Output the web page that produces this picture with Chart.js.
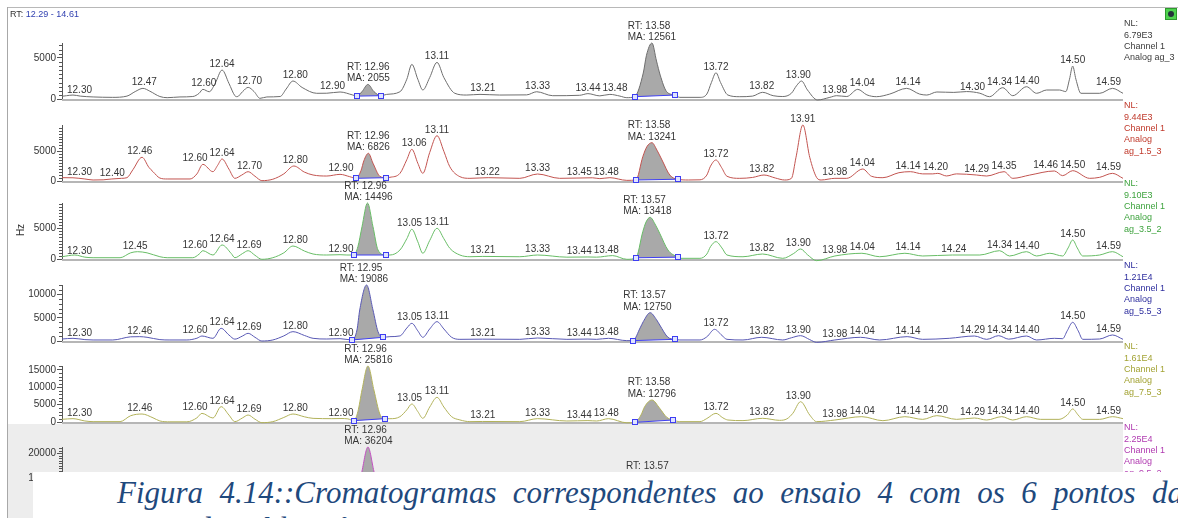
<!DOCTYPE html>
<html lang="pt">
<head>
<meta charset="utf-8">
<title>Cromatogramas – ensaio 4</title>
<script src="https://cdn.jsdelivr.net/npm/chart.js@4.4.1/dist/chart.umd.min.js"></script>
<style>
  html, body { margin: 0; padding: 0; background: #fff; }
  body { position: relative; width: 1178px; height: 518px; overflow: hidden;
         font-family: "Liberation Sans", Arial, sans-serif; }
  #selBg { position: absolute; left: 8px; top: 424px; width: 1115px; height: 94px; background: #ededed; }
  #chrom canvas { position: absolute; left: 0; }
  #frameTop { position: absolute; left: 7px; top: 7px; width: 1171px; height: 1px; background: #b8b8b8; }
  #frameLeft { position: absolute; left: 7px; top: 7px; width: 1px; height: 511px; background: #a8a8a8; }
  #range { position: absolute; left: 10px; top: 9px; font-size: 9px; line-height: 10px; color: #333; white-space: nowrap; }
  #range span { color: #2f3fb0; }
  #icon { position: absolute; left: 1165px; top: 8px; width: 10px; height: 10px; background: #4fd34f;
          border: 1px solid #2e9a2e; }
  #icon::after { content: ""; position: absolute; left: 2px; top: 2px; width: 6px; height: 6px;
                 border-radius: 50%; background: #24343a; }
  #caption { position: absolute; left: 33px; top: 472px; width: 1145px; height: 46px; background: #fff; overflow: hidden; }
  #caption p { position: absolute; margin: 0; left: 84px; white-space: nowrap;
               font-family: "Liberation Serif", "Times New Roman", serif; font-style: italic;
               font-size: 31px; line-height: 31px; color: #1f497d; }
  #cap1 { top: 5px; }
  #cap2 { top: 41px; }
</style>
</head>
<body>
<div id="selBg"></div>
<div id="chrom"></div>
<div id="frameTop"></div>
<div id="frameLeft"></div>
<div id="range">RT: <span>12.29 - 14.61</span></div>
<div id="icon"></div>
<div id="caption">
  <p id="cap1"><span>Figura 4.14::Cromatogramas correspondentes ao ensaio 4 com os 6 pontos da</span></p>
  <p id="cap2"><span>curva de calibração, entre 12,29 e 14,61 min.</span></p>
</div>

<script>
// Retention-time window shown on every trace (min)
const rtWindow = [12.29, 14.61];

// Full-scale (NL) intensity of each channel
const nlValues = [6790, 9440, 9100, 12100, 16100, 22500];
const nlTexts = ['6.79E3', '9.44E3', '9.10E3', '1.21E4', '1.61E4', '2.25E4'];
const sampleNames = ['ag_3', 'ag_1.5_3', 'ag_3.5_2', 'ag_5.5_3', 'ag_7.5_3', 'ag_9.5_2'];

// Detector signal, [retention time, intensity]
const trace_ag_3 = [[12.290,330],[12.300,400],[12.314,480],[12.330,350],[12.358,250],[12.400,200],[12.432,350],[12.450,900],[12.467,1290],[12.482,950],[12.504,300],[12.520,160],[12.548,250],[12.576,300],[12.590,700],[12.598,1170],[12.612,880],[12.625,1900],[12.640,3510],[12.655,1900],[12.668,400],[12.673,280],[12.685,900],[12.697,1410],[12.710,900],[12.723,80],[12.738,250],[12.767,300],[12.780,1200],[12.795,2180],[12.815,1400],[12.847,690],[12.869,700],[12.898,850],[12.926,480],[12.935,350],[12.946,900],[12.959,1770],[12.972,900],[12.987,400],[13.000,560],[13.029,880],[13.044,2400],[13.055,4200],[13.068,2400],[13.079,1090],[13.094,2600],[13.110,4440],[13.125,2600],[13.149,690],[13.175,480],[13.204,560],[13.247,480],[13.306,500],[13.328,880],[13.363,400],[13.422,450],[13.440,650],[13.466,380],[13.488,560],[13.510,350],[13.525,160],[13.542,280],[13.561,3150],[13.568,5300],[13.580,6790],[13.590,4600],[13.598,2900],[13.612,900],[13.630,480],[13.641,200],[13.685,200],[13.700,600],[13.710,2000],[13.720,3180],[13.730,2000],[13.746,480],[13.772,280],[13.800,350],[13.822,810],[13.845,400],[13.866,300],[13.885,700],[13.896,1600],[13.907,2180],[13.920,1100],[13.942,-120],[13.969,200],[13.984,400],[14.006,300],[14.030,1170],[14.050,500],[14.071,280],[14.100,600],[14.137,1290],[14.165,600],[14.181,480],[14.203,850],[14.240,800],[14.268,900],[14.297,700],[14.318,280],[14.347,1370],[14.369,400],[14.399,1490],[14.421,690],[14.443,1090],[14.471,1090],[14.485,900],[14.493,2400],[14.500,3990],[14.507,2400],[14.518,690],[14.559,690],[14.587,1290],[14.610,690]];
const trace_ag_1_5_3 = [[12.290,560],[12.314,540],[12.340,340],[12.358,170],[12.380,200],[12.399,340],[12.420,450],[12.432,560],[12.445,1900],[12.465,4000],[12.480,2300],[12.489,1570],[12.504,500],[12.520,340],[12.570,340],[12.585,1200],[12.598,2810],[12.620,1570],[12.630,2600],[12.640,3710],[12.655,2000],[12.668,450],[12.683,1000],[12.697,1570],[12.712,800],[12.727,60],[12.751,300],[12.775,1200],[12.797,2530],[12.820,1500],[12.839,1010],[12.869,840],[12.898,1120],[12.919,730],[12.933,450],[12.944,1800],[12.950,3400],[12.960,4670],[12.970,3000],[12.985,800],[12.998,560],[13.007,620],[13.029,1290],[13.044,3600],[13.055,5340],[13.068,3000],[13.079,1290],[13.094,4800],[13.110,7640],[13.125,5000],[13.138,2400],[13.160,730],[13.182,450],[13.222,560],[13.291,450],[13.330,1180],[13.378,450],[13.450,540],[13.466,400],[13.488,560],[13.525,110],[13.545,170],[13.560,4100],[13.569,5800],[13.580,6460],[13.591,5200],[13.602,3540],[13.619,1010],[13.636,300],[13.660,170],[13.685,200],[13.700,1000],[13.708,2500],[13.720,3540],[13.732,2300],[13.744,800],[13.772,450],[13.800,600],[13.825,1010],[13.850,500],[13.870,170],[13.885,450],[13.895,4000],[13.910,9440],[13.925,4000],[13.940,600],[13.950,170],[13.980,450],[14.006,450],[14.041,2020],[14.060,800],[14.085,560],[14.120,1400],[14.145,1570],[14.172,1200],[14.194,1200],[14.205,1290],[14.224,850],[14.246,1200],[14.290,1010],[14.312,840],[14.350,1570],[14.369,450],[14.406,1000],[14.460,1690],[14.478,900],[14.500,1740],[14.537,450],[14.559,620],[14.587,1290],[14.610,450]];
const trace_ag_3_5_2 = [[12.290,370],[12.318,650],[12.340,300],[12.358,210],[12.417,210],[12.440,1000],[12.455,1190],[12.476,1000],[12.504,370],[12.520,210],[12.576,210],[12.590,800],[12.598,1350],[12.620,650],[12.640,2280],[12.660,900],[12.668,210],[12.685,900],[12.697,1350],[12.712,600],[12.727,-50],[12.751,210],[12.775,1000],[12.795,2110],[12.820,1300],[12.839,810],[12.869,650],[12.898,700],[12.913,650],[12.928,650],[12.937,2000],[12.946,5250],[12.958,9100],[12.970,5250],[12.981,1460],[12.998,650],[13.007,650],[13.029,1460],[13.044,3300],[13.055,4830],[13.068,2800],[13.079,930],[13.094,3000],[13.110,4990],[13.125,3300],[13.138,1740],[13.160,650],[13.182,370],[13.210,420],[13.291,370],[13.330,650],[13.394,300],[13.440,330],[13.459,300],[13.494,550],[13.525,-50],[13.545,200],[13.560,4440],[13.567,6000],[13.576,6770],[13.588,5500],[13.597,4170],[13.615,1460],[13.636,300],[13.641,110],[13.685,110],[13.700,800],[13.708,2000],[13.720,2820],[13.733,1800],[13.744,650],[13.779,370],[13.822,810],[13.866,110],[13.890,900],[13.905,1630],[13.920,700],[13.940,-270],[13.980,490],[14.039,930],[14.078,370],[14.133,930],[14.172,490],[14.237,650],[14.297,650],[14.340,1350],[14.362,490],[14.399,1190],[14.421,490],[14.450,930],[14.478,490],[14.490,1800],[14.500,3090],[14.510,1800],[14.522,490],[14.559,650],[14.587,1190],[14.610,370]];
const trace_ag_5_5_3 = [[12.290,430],[12.314,580],[12.340,300],[12.358,220],[12.401,220],[12.440,900],[12.460,940],[12.476,800],[12.504,300],[12.526,220],[12.563,220],[12.585,600],[12.596,1080],[12.620,580],[12.638,2740],[12.655,1300],[12.668,400],[12.685,1100],[12.697,1660],[12.712,800],[12.727,0],[12.751,220],[12.775,1100],[12.795,2020],[12.820,1200],[12.839,580],[12.869,430],[12.898,500],[12.924,220],[12.935,2380],[12.941,6700],[12.956,12100],[12.970,6700],[12.981,2020],[12.992,800],[13.007,940],[13.029,1100],[13.044,2800],[13.055,3820],[13.068,2200],[13.079,800],[13.094,2600],[13.110,4180],[13.125,2600],[13.142,800],[13.160,360],[13.210,400],[13.291,360],[13.330,650],[13.394,360],[13.440,420],[13.459,360],[13.485,580],[13.525,80],[13.538,80],[13.555,3000],[13.561,4180],[13.576,6120],[13.590,4600],[13.597,3460],[13.615,800],[13.630,360],[13.641,220],[13.685,220],[13.700,900],[13.717,2520],[13.733,1200],[13.744,360],[13.779,220],[13.820,800],[13.866,220],[13.885,700],[13.905,1150],[13.925,300],[13.940,-290],[13.980,220],[14.036,800],[14.078,220],[14.138,940],[14.172,360],[14.230,580],[14.285,1080],[14.312,360],[14.338,1150],[14.360,400],[14.399,1080],[14.421,220],[14.460,580],[14.478,500],[14.488,2200],[14.500,4040],[14.512,2200],[14.522,360],[14.559,430],[14.587,1300],[14.610,360]];
const trace_ag_7_5_3 = [[12.290,770],[12.314,960],[12.340,300],[12.358,100],[12.417,100],[12.440,1800],[12.465,2300],[12.489,1200],[12.504,300],[12.526,50],[12.563,50],[12.585,1200],[12.596,2490],[12.620,1150],[12.638,4410],[12.655,2000],[12.668,100],[12.685,1200],[12.697,2010],[12.712,800],[12.727,-190],[12.751,100],[12.775,1300],[12.795,2300],[12.820,1500],[12.839,1050],[12.880,960],[12.900,1000],[12.915,900],[12.928,380],[12.937,2970],[12.946,9200],[12.959,16100],[12.972,9200],[12.985,2300],[12.996,960],[13.007,950],[13.029,1530],[13.044,3500],[13.055,5180],[13.068,3000],[13.079,1060],[13.094,4300],[13.110,7090],[13.125,4300],[13.142,1530],[13.160,600],[13.182,100],[13.210,150],[13.291,100],[13.330,960],[13.394,290],[13.440,400],[13.459,290],[13.485,960],[13.525,-230],[13.542,-100],[13.556,2000],[13.564,4400],[13.580,6330],[13.597,3930],[13.612,1400],[13.626,575],[13.641,100],[13.685,100],[13.700,1000],[13.720,2490],[13.735,1200],[13.746,575],[13.779,400],[13.822,1060],[13.859,480],[13.875,900],[13.888,2490],[13.905,5840],[13.925,2000],[13.940,100],[13.980,575],[14.039,1530],[14.085,380],[14.133,1530],[14.172,760],[14.203,1820],[14.246,760],[14.285,1150],[14.312,575],[14.345,1530],[14.369,575],[14.399,1530],[14.430,760],[14.470,760],[14.488,2000],[14.500,3740],[14.512,2000],[14.522,760],[14.559,760],[14.587,1530],[14.610,960]];
const trace_ag_9_5_2 = [[12.290,900],[12.314,1100],[12.358,200],[12.417,200],[12.465,2800],[12.504,300],[12.563,100],[12.596,3000],[12.620,1300],[12.638,5200],[12.668,200],[12.697,2400],[12.727,-200],[12.795,2700],[12.839,1200],[12.910,1100],[12.928,500],[12.937,4000],[12.946,12800],[12.959,22500],[12.972,12800],[12.985,3000],[12.996,1100],[13.029,1800],[13.055,6000],[13.079,1200],[13.110,8300],[13.142,1700],[13.182,100],[13.291,100],[13.330,1100],[13.459,300],[13.494,1100],[13.525,-200],[13.542,-100],[13.556,2500],[13.564,5500],[13.573,8000],[13.590,5200],[13.612,1600],[13.626,600],[13.685,100],[13.720,2900],[13.746,600],[13.822,1200],[13.905,7000],[13.940,100],[14.039,1800],[14.133,1800],[14.275,1300],[14.345,1800],[14.399,1800],[14.500,4500],[14.522,900],[14.587,1800],[14.610,1100]];

// Apex retention times printed above the detected peaks
const peaks_ag_3 = ['12.30','12.47','12.60','12.64','12.70','12.80','12.90','13.11','13.21','13.33','13.44','13.48','13.72','13.82','13.90','13.98','14.04','14.14','14.30','14.34','14.40','14.50','14.59'];
const peaks_ag_1_5_3 = ['12.30','12.40','12.46','12.60','12.64','12.70','12.80','12.90','13.06','13.11','13.22','13.33','13.45','13.48','13.72','13.82','13.91','13.98','14.04','14.14','14.20','14.29','14.35','14.46','14.50','14.59'];
const peaks_ag_3_5_2 = ['12.30','12.45','12.60','12.64','12.69','12.80','12.90','13.05','13.11','13.21','13.33','13.44','13.48','13.72','13.82','13.90','13.98','14.04','14.14','14.24','14.34','14.40','14.50','14.59'];
const peaks_ag_5_5_3 = ['12.30','12.46','12.60','12.64','12.69','12.80','12.90','13.05','13.11','13.21','13.33','13.44','13.48','13.72','13.82','13.90','13.98','14.04','14.14','14.29','14.34','14.40','14.50','14.59'];
const peaks_ag_7_5_3 = ['12.30','12.46','12.60','12.64','12.69','12.80','12.90','13.05','13.11','13.21','13.33','13.44','13.48','13.72','13.82','13.90','13.98','14.04','14.14','14.20','14.29','14.34','14.40','14.50','14.59'];
const peaks_ag_9_5_2 = [];

// Integrated peaks: retention time, manual area, integration limits (min)
const areas_ag_3 = [{ rt: '12.96', ma: '2055', from: 12.935, to: 12.987 }, { rt: '13.58', ma: '12561', from: 13.542, to: 13.630 }];
const areas_ag_1_5_3 = [{ rt: '12.96', ma: '6826', from: 12.933, to: 12.998 }, { rt: '13.58', ma: '13241', from: 13.545, to: 13.636 }];
const areas_ag_3_5_2 = [{ rt: '12.96', ma: '14496', from: 12.928, to: 12.998 }, { rt: '13.57', ma: '13418', from: 13.545, to: 13.636 }];
const areas_ag_5_5_3 = [{ rt: '12.95', ma: '19086', from: 12.924, to: 12.992 }, { rt: '13.57', ma: '12750', from: 13.538, to: 13.630 }];
const areas_ag_7_5_3 = [{ rt: '12.96', ma: '25816', from: 12.928, to: 12.996 }, { rt: '13.58', ma: '12796', from: 13.542, to: 13.626 }];
const areas_ag_9_5_2 = [{ rt: '12.96', ma: '36204', from: 12.928, to: 12.996 }, { rt: '13.57', ma: null, from: 13.542, to: 13.626 }];

// ---- layout and styling of the stacked traces ----
const styles = [
  { line: '#6e6e6e', info: '#3c3c3c' },
  { line: '#c25450', info: '#c0392b' },
  { line: '#68bd66', info: '#3ea33e' },
  { line: '#5858b4', info: '#2e2e9e' },
  { line: '#b2b25a', info: '#a3a334' },
  { line: '#c24ec2', info: '#b03ab0' }
];
const baselines = [99, 181, 259, 341, 422, 503];   // page y of each zero line
const PLOT_H = 56;                                  // pixel height of the NL full scale
const CANVAS_TOP = 84, CANVAS_H = 92;

const traces = [trace_ag_3, trace_ag_1_5_3, trace_ag_3_5_2, trace_ag_5_5_3, trace_ag_7_5_3, trace_ag_9_5_2];
const peakSets = [peaks_ag_3, peaks_ag_1_5_3, peaks_ag_3_5_2, peaks_ag_5_5_3, peaks_ag_7_5_3, peaks_ag_9_5_2];
const areaSets = [areas_ag_3, areas_ag_1_5_3, areas_ag_3_5_2, areas_ag_5_5_3, areas_ag_7_5_3, areas_ag_9_5_2];

const LABEL_FONT = '10px "Liberation Sans", Arial, sans-serif';
const INFO_FONT = '9px "Liberation Sans", Arial, sans-serif';

// per-canvas description of what each panel shows
const panelOf = new Map();

function valueAt(trace, rt) {
  for (let i = 1; i < trace.length; i++) {
    const [x0, y0] = trace[i - 1], [x1, y1] = trace[i];
    if (rt >= x0 && rt <= x1) return y0 + (y1 - y0) * (rt - x0) / (x1 - x0);
  }
  return trace[trace.length - 1][1];
}
function maxIn(trace, a, b) {
  let m = -Infinity;
  for (const [x, y] of trace) if (x >= a && x <= b) m = Math.max(m, y);
  return m === -Infinity ? valueAt(trace, (a + b) / 2) : m;
}

const chromPlugin = {
  id: 'chrom',
  beforeDatasetsDraw(chart) {
    const p = panelOf.get(chart.canvas);
    if (!p) return;
    const { ctx, chartArea, scales: { x, y } } = chart;

    // axis rule under the trace
    ctx.save();
    ctx.fillStyle = '#b6b6b6';
    ctx.fillRect(chartArea.left, chartArea.bottom, chartArea.right - chartArea.left, 2);
    ctx.restore();

    // shaded integrated areas, bounded by the trace and the integration baseline
    const line = chart.getDatasetMeta(0).dataset;
    line.updateControlPoints(chartArea, 'x');
    for (const a of p.areas) {
      const x1 = x.getPixelForValue(a.from), x2 = x.getPixelForValue(a.to);
      const y1 = y.getPixelForValue(valueAt(p.trace, a.from));
      const y2 = y.getPixelForValue(valueAt(p.trace, a.to));
      ctx.save();
      ctx.beginPath(); ctx.rect(x1, 0, x2 - x1, chart.height); ctx.clip();
      ctx.beginPath(); ctx.moveTo(x1, y1); ctx.lineTo(x2, y2); ctx.lineTo(x2, -10); ctx.lineTo(x1, -10); ctx.closePath(); ctx.clip();
      ctx.beginPath();
      if (typeof line.path === 'function') {
        line.path(ctx);
      } else {
        p.trace.forEach(([rx, ry], i) => {
          const px = x.getPixelForValue(rx), py = y.getPixelForValue(ry);
          i ? ctx.lineTo(px, py) : ctx.moveTo(px, py);
        });
      }
      ctx.lineTo(chartArea.right + 5, chart.height + 10);
      ctx.lineTo(chartArea.left - 5, chart.height + 10);
      ctx.closePath(); ctx.clip();
      ctx.fillStyle = '#a9a9a9';
      ctx.fillRect(x1, 0, x2 - x1, chart.height);
      ctx.restore();
    }
  },
  afterDatasetsDraw(chart) {
    const p = panelOf.get(chart.canvas);
    if (!p) return;
    const { ctx, chartArea, scales: { x, y } } = chart;

    // integration baselines with their end markers
    ctx.save();
    for (const a of p.areas) {
      const x1 = x.getPixelForValue(a.from), x2 = x.getPixelForValue(a.to);
      const y1 = y.getPixelForValue(valueAt(p.trace, a.from));
      const y2 = y.getPixelForValue(valueAt(p.trace, a.to));
      ctx.strokeStyle = '#3e3ef2'; ctx.lineWidth = 1;
      ctx.beginPath(); ctx.moveTo(x1, y1); ctx.lineTo(x2, y2); ctx.stroke();
      for (const [mx, my] of [[x1, y1], [x2, y2]]) {
        ctx.fillStyle = '#dfe3ff';
        ctx.fillRect(Math.round(mx) - 2.5, Math.round(my) - 2.5, 5, 5);
        ctx.strokeRect(Math.round(mx) - 2.5, Math.round(my) - 2.5, 5, 5);
      }
    }
    ctx.restore();

    // peak annotations
    ctx.save();
    ctx.font = LABEL_FONT;
    const items = [];
    for (const r of p.peaks) {
      const rt = parseFloat(r);
      const py = y.getPixelForValue(maxIn(p.trace, rt - 0.013, rt + 0.013));
      const w = ctx.measureText(r).width;
      const cx = x.getPixelForValue(rt);
      items.push({ lines: [r], w, py, l: cx - w / 2, r: cx + w / 2, t: py - 11, b: py - 2 });
    }
    for (const a of p.areas) {
      const py = y.getPixelForValue(maxIn(p.trace, a.from, a.to));
      const lines = ['RT: ' + a.rt, a.ma ? 'MA: ' + a.ma : ''];
      const w = Math.max(...lines.map(s => ctx.measureText(s).width));
      const cx = x.getPixelForValue(parseFloat(a.rt));
      items.push({ lines, w, py, l: cx - w / 2, r: cx + w / 2, t: py - 22.5, b: py - 2 });
    }
    // tallest peaks keep their place, smaller ones step aside
    items.sort((A, B) => A.py - B.py);
    const placed = [];
    for (const it of items) {
      for (let k = 0; k < 12; k++) {
        const hit = placed.find(q => it.l < q.r + 2 && it.r > q.l - 2 && it.t < q.b && it.b > q.t);
        if (!hit) break;
        const dx = (it.l + it.r) / 2 >= (hit.l + hit.r) / 2 ? hit.r + 2 - it.l : hit.l - 2 - it.r;
        it.l += dx; it.r += dx;
      }
      const lo = chartArea.left + 5, hi = chartArea.right - 2;
      if (it.l < lo) { it.r += lo - it.l; it.l = lo; }
      if (it.r > hi) { it.l -= it.r - hi; it.r = hi; }
      placed.push(it);
    }
    ctx.fillStyle = '#363636';
    ctx.textBaseline = 'alphabetic';
    for (const it of placed) {
      const n = it.lines.length;
      it.lines.forEach((s, i) => {
        const yb = it.py - 3 - (n - 1 - i) * 11.5;
        if (n === 1) { ctx.textAlign = 'center'; ctx.fillText(s, (it.l + it.r) / 2, yb); }
        else { ctx.textAlign = 'left'; ctx.fillText(s, it.l, yb); }
      });
    }
    ctx.restore();
  },
  afterDraw(chart) {
    const p = panelOf.get(chart.canvas);
    if (!p) return;
    const { ctx, chartArea, scales: { y } } = chart;
    ctx.save();
    // minor ticks on the intensity axis
    ctx.strokeStyle = '#555'; ctx.lineWidth = 1;
    ctx.beginPath();
    for (let v = p.minor; v < p.nl; v += p.minor) {
      if (v % p.major === 0) continue;
      const py = Math.round(y.getPixelForValue(v)) + 0.5;
      ctx.moveTo(chartArea.left - 3, py); ctx.lineTo(chartArea.left, py);
    }
    ctx.stroke();

    // channel description at the right
    ctx.font = INFO_FONT;
    ctx.fillStyle = p.infoColor;
    ctx.textAlign = 'left'; ctx.textBaseline = 'middle';
    p.info.forEach((s, i) => ctx.fillText(s, 1124, chartArea.bottom - 75 + i * 11.3));

    if (p.unit) {
      ctx.translate(21, chartArea.bottom - 29);
      ctx.rotate(-Math.PI / 2);
      ctx.font = '10px "Liberation Sans", Arial, sans-serif';
      ctx.fillStyle = '#333'; ctx.textAlign = 'center';
      ctx.fillText(p.unit, 0, 0);
    }
    ctx.restore();
  }
};

const host = document.getElementById('chrom');
traces.forEach((trace, i) => {
  const nl = nlValues[i];
  const major = nl >= 20000 ? 10000 : 5000;
  const minor = nl >= 10000 ? 1000 : 500;
  const info = i === 0
    ? ['NL:', nlTexts[i], 'Channel 1', 'Analog ' + sampleNames[i]]
    : ['NL:', nlTexts[i], 'Channel 1', 'Analog', sampleNames[i]];

  const cv = document.createElement('canvas');
  cv.width = 1178; cv.height = CANVAS_H;
  cv.style.top = (baselines[i] - CANVAS_TOP) + 'px';
  cv.style.width = '1178px'; cv.style.height = CANVAS_H + 'px';
  host.appendChild(cv);
  panelOf.set(cv, {
    trace, peaks: peakSets[i], areas: areaSets[i], nl, major, minor,
    info, infoColor: styles[i].info, unit: i === 2 ? 'Hz' : null
  });

  new Chart(cv, {
    type: 'line',
    data: {
      datasets: [{
        data: trace.map(([rt, v]) => ({ x: rt, y: v })),
        borderColor: styles[i].line,
        borderWidth: 1,
        pointRadius: 0,
        fill: false,
        cubicInterpolationMode: 'monotone',
        capBezierPoints: false,
        clip: false
      }]
    },
    options: {
      responsive: false,
      animation: false,
      devicePixelRatio: 1,
      events: [],
      layout: { padding: { top: CANVAS_TOP - PLOT_H, bottom: CANVAS_H - CANVAS_TOP, left: 0, right: 55 } },
      scales: {
        x: { type: 'linear', min: rtWindow[0], max: rtWindow[1], display: false },
        y: {
          type: 'linear', min: 0, max: nl,
          afterFit(s) { s.width = 62; },
          // labelled ticks at every multiple of the major step below full scale
          afterBuildTicks(s) {
            const list = [];
            for (let v = 0; v <= nl; v += major) list.push({ value: v });
            s.ticks = list;
          },
          ticks: {
            autoSkip: false, padding: 1, color: '#333',
            font: { family: '"Liberation Sans", Arial, sans-serif', size: 10 },
            callback: v => String(v)
          },
          grid: { drawOnChartArea: false, drawTicks: true, tickLength: 5, color: '#555' },
          border: { display: true, color: '#555', width: 1 }
        }
      },
      plugins: { legend: { display: false }, tooltip: { enabled: false } }
    },
    plugins: [chromPlugin]
  });
});

// justify the first caption line across the page width
function justifyCaption() {
  const p = document.getElementById('cap1');
  const span = p.querySelector('span');
  p.style.wordSpacing = '0px';
  const w = span.getBoundingClientRect().width;
  const spaces = (span.textContent.match(/ /g) || []).length;
  p.style.wordSpacing = ((1183 - 117 - w) / spaces) + 'px';
}
justifyCaption();
if (document.fonts && document.fonts.ready) document.fonts.ready.then(justifyCaption);
</script>
</body>
</html>
